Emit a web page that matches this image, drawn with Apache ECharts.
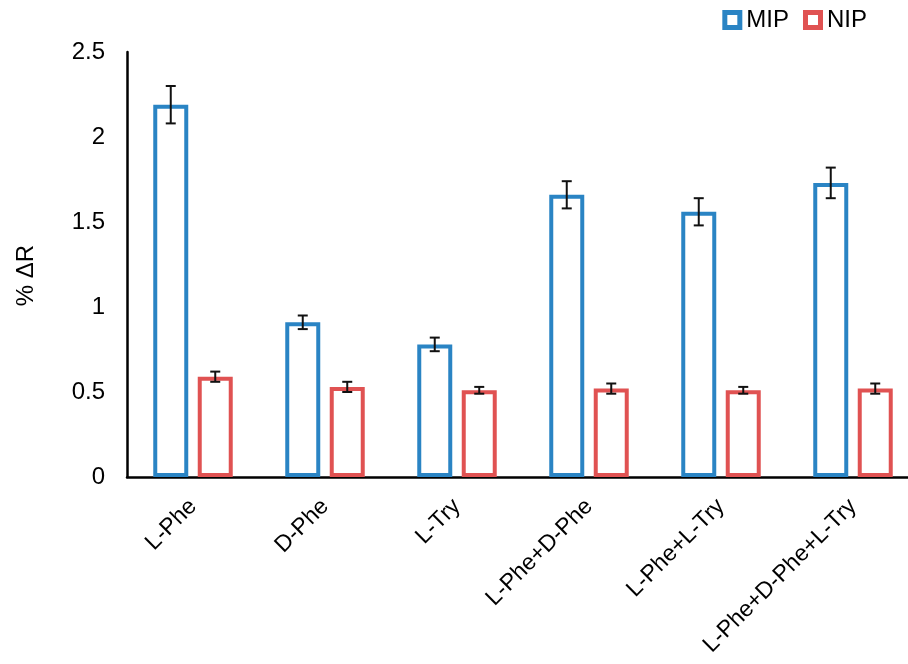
<!DOCTYPE html>
<html>
<head>
<meta charset="utf-8">
<style>
  html, body { margin: 0; padding: 0; background: #fff; }
  #chart { width: 908px; height: 664px; }
</style>
<script src="https://cdn.jsdelivr.net/npm/echarts@6/dist/echarts.min.js"></script>
</head>
<body>
<div id="chart"></div>
<script>
// Analytes tested
const categories = ['L-Phe', 'D-Phe', 'L-Try', 'L-Phe+D-Phe', 'L-Phe+L-Try', 'L-Phe+D-Phe+L-Try'];
// Mean response (% ΔR) and standard deviation for each polymer
const mipValues = [2.19, 0.91, 0.78, 1.66, 1.56, 1.73];
const mipErrors = [0.11, 0.04, 0.04, 0.08, 0.08, 0.09];
const nipValues = [0.59, 0.53, 0.51, 0.52, 0.51, 0.52];
const nipErrors = [0.03, 0.03, 0.02, 0.03, 0.02, 0.03];
const yTicks = [0, 0.5, 1, 1.5, 2, 2.5];

const FONT = 'Liberation Sans, Arial, sans-serif';
const BLUE = '#2A84C4';
const RED = '#E05252';
// Outer bar width (the outline is drawn inside it) and the gap between the pair
const BAR_W = 35;
const BAR_GAP = 9.5;
// Hollow square legend marker: outer square with an inner hole
const FRAME_ICON = 'path://M0,0H16V16H0Z M4,4V12H12V4Z';

// Horizontal shift of each bar from the category centre
const barShift = {
  0: -(BAR_W + BAR_GAP) / 2,
  1: (BAR_W + BAR_GAP) / 2
};

function errorSeries(name, values, errors, idx) {
  return {
    type: 'custom',
    name: name + ' error',
    z: 5,
    silent: true,
    data: values.map((v, i) => [i, v, errors[i]]),
    encode: { x: 0, y: 1 },
    renderItem: function (params, api) {
      const cat = api.value(0);
      const v = api.value(1);
      const e = api.value(2);
      const hi = api.coord([cat, v + e]);
      const lo = api.coord([cat, v - e]);
      const x = hi[0] + barShift[idx];
      const cap = 5;
      const style = { stroke: '#111', lineWidth: 2 };
      return {
        type: 'group',
        children: [
          { type: 'line', shape: { x1: x, y1: hi[1], x2: x, y2: lo[1] }, style: style },
          { type: 'line', shape: { x1: x - cap, y1: hi[1], x2: x + cap, y2: hi[1] }, style: style },
          { type: 'line', shape: { x1: x - cap, y1: lo[1], x2: x + cap, y2: lo[1] }, style: style }
        ]
      };
    }
  };
}

const chart = echarts.init(document.getElementById('chart'));
chart.setOption({
  animation: false,
  backgroundColor: '#fff',
  grid: { left: 127, top: 52, width: 792, height: 425, outerBoundsMode: 'none', containLabel: false },
  legend: {
    right: 36,
    top: 3,
    itemWidth: 20,
    itemHeight: 20,
    itemGap: 14,
    textStyle: { fontFamily: FONT, fontSize: 24, color: '#000', padding: [0, 0, 0, -1] },
    data: [
      { name: 'MIP', icon: FRAME_ICON, itemStyle: { color: BLUE, borderWidth: 0 } },
      { name: 'NIP', icon: FRAME_ICON, itemStyle: { color: RED, borderWidth: 0 } }
    ]
  },
  xAxis: {
    type: 'category',
    data: categories,
    axisLine: { lineStyle: { color: '#000', width: 2.5 } },
    axisTick: { show: false },
    axisLabel: {
      interval: 0,
      rotate: 45,
      margin: 26,
      fontFamily: FONT,
      fontSize: 23,
      color: '#000'
    }
  },
  yAxis: {
    type: 'value',
    min: yTicks[0],
    max: yTicks[yTicks.length - 1],
    interval: 0.5,
    axisLine: { show: true, lineStyle: { color: '#000', width: 2.5 } },
    axisTick: { show: false },
    splitLine: { show: false },
    axisLabel: {
      margin: 22,
      fontFamily: FONT,
      fontSize: 24,
      color: '#000'
    }
  },
  graphic: [
    {
      type: 'text',
      left: 14,
      top: 245,
      rotation: Math.PI / 2,
      style: { text: '% ΔR', fontFamily: FONT, fontSize: 24, fill: '#000' }
    }
  ],
  series: [
    {
      type: 'bar',
      name: 'MIP',
      data: mipValues,
      barWidth: BAR_W,
      barGap: (BAR_GAP / BAR_W * 100).toFixed(1) + '%',
      itemStyle: { color: '#fff', borderColor: BLUE, borderWidth: 4 }
    },
    {
      type: 'bar',
      name: 'NIP',
      data: nipValues,
      barWidth: BAR_W,
      itemStyle: { color: '#fff', borderColor: RED, borderWidth: 4 }
    },
    errorSeries('MIP', mipValues, mipErrors, 0),
    errorSeries('NIP', nipValues, nipErrors, 1)
  ]
});
</script>
</body>
</html>
